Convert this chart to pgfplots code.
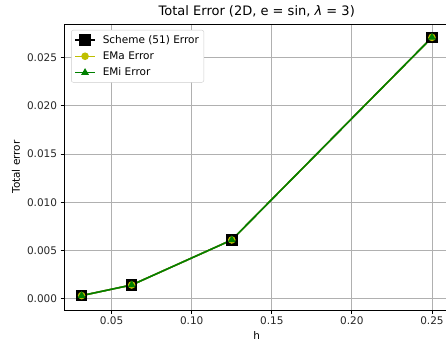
\documentclass[border=0pt]{standalone}
\usepackage{pgfplots}
\pgfplotsset{compat=1.18}
\usepackage{fontspec}
\setmainfont{DejaVu Sans}
\definecolor{mplY}{rgb}{0.75,0.75,0}
\definecolor{mplG}{rgb}{0,0.5,0}
\definecolor{gridc}{HTML}{B0B0B0}
\begin{document}
\begin{tikzpicture}
\begin{axis}[
  at={(64.1pt,35pt)}, anchor=south west,
  scale only axis, width=385.3pt, height=286pt,
  xmin=0.0203, xmax=0.2609, ymin=-0.00115, ymax=0.02845,
  xtick={0.05,0.10,0.15,0.20,0.25},
  ytick={0,0.005,0.010,0.015,0.020,0.025},
  scaled ticks=false,
  xticklabel style={/pgf/number format/.cd,fixed,fixed zerofill,precision=2},
  yticklabel style={/pgf/number format/.cd,fixed,fixed zerofill,precision=3},
  /pgf/number format/assume math mode=true,
  tick label style={font=\fontsize{10.5}{12}\selectfont, color=black!85},
  label style={font=\fontsize{10.5}{12}\selectfont},
  grid=major, major grid style={color=gridc, line width=0.8pt},
  tick align=outside, tick pos=left, major tick length=3.5pt,
  every tick/.style={black, line width=0.8pt},
  axis line style={line width=0.8pt},
  xlabel={h}, ylabel={Total error},
  title={Total Error (2D, e = sin, \textit{λ} = 3)},
  title style={font=\fontsize{13}{15}\selectfont, yshift=-3pt},
  legend cell align=left,
  legend style={at={(axis description cs:0,1)}, anchor=north west, xshift=7pt, yshift=-6pt,
    draw=black!20, rounded corners=2pt, fill=white,
    font=\fontsize{10.5}{12}\selectfont, row sep=3pt, inner sep=3pt,
    /tikz/every odd column/.append style={column sep=5pt}},
  legend image code/.code={\draw[mark repeat=2,mark phase=2] plot coordinates {(0pt,0pt) (10pt,0pt) (20pt,0pt)};},
]
\addplot[black, line width=1.5pt, mark=square*, mark size=5pt, mark options={solid}] coordinates {
 (0.03125,0.00034) (0.0625,0.00144) (0.125,0.0061) (0.25,0.02706)};
\addlegendentry{Scheme (51) Error}
\addplot[mplY, line width=1.5pt, mark=*, mark size=3pt] coordinates {
 (0.03125,0.00034) (0.0625,0.00144) (0.125,0.0061) (0.25,0.02706)};
\addlegendentry{EMa Error}
\addplot[mplG, line width=1.5pt, mark=triangle*, mark size=3pt] coordinates {
 (0.03125,0.00034) (0.0625,0.00144) (0.125,0.0061) (0.25,0.02706)};
\addlegendentry{EMi Error}
\end{axis}
\pgfresetboundingbox
\useasboundingbox (0,0) rectangle (446pt,345pt);
\end{tikzpicture}
\end{document}
